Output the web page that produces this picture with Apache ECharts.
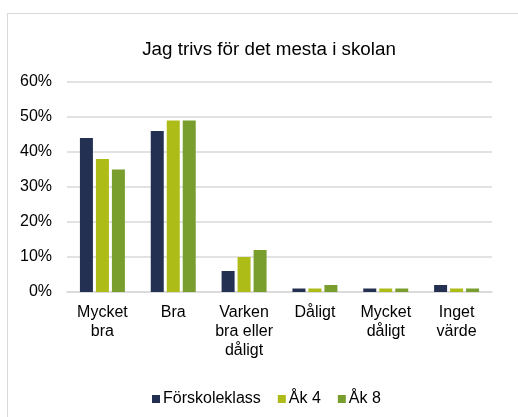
<!DOCTYPE html>
<html>
<head>
<meta charset="utf-8">
<script src="https://cdn.jsdelivr.net/npm/echarts@6/dist/echarts.min.js"></script>
<style>
  html, body { margin: 0; padding: 0; background: #fff; overflow: hidden; }
  #frame { position: absolute; left: 7px; top: 13px; width: 600px; height: 500px; border: 1.5px solid #d9d9d9; }
  #chart { position: absolute; left: 0; top: 0; width: 518px; height: 417px; }
</style>
</head>
<body>
<div id="frame"></div>
<div id="chart"></div>
<script>
// svarskategorier
const categories = ['Mycket\nbra', 'Bra', 'Varken\nbra eller\ndåligt', 'Dåligt', 'Mycket\ndåligt', 'Inget\nvärde'];
// andel i procent
const forskoleklass = [44, 46, 6, 1, 1, 2];
const ak4 = [38, 49, 10, 1, 1, 1];
const ak8 = [35, 49, 12, 2, 1, 1];
const seriesNames = ['Förskoleklass', 'Åk 4', 'Åk 8'];
const colors = ['#243052', '#adbc16', '#799e2e'];

const font = 'Liberation Sans, Arial, sans-serif';
const mychart = echarts.init(document.getElementById('chart'));

const option = {
  textStyle: { fontFamily: font },
  title: {
    text: 'Jag trivs för det mesta i skolan',
    left: 264,
    textAlign: 'center',
    top: 35,
    textStyle: { fontFamily: font, fontSize: 18.8, fontWeight: 'normal', color: '#000' }
  },
  legend: {
    data: seriesNames,
    top: 386,
    left: 147,
    icon: 'rect',
    itemWidth: 8,
    itemHeight: 8,
    itemGap: 17,
    textStyle: { fontFamily: font, fontSize: 16, color: '#000', padding: [0, 0, 0, -2] }
  },
  grid: { left: 67, right: 26, top: 82, height: 210 },
  xAxis: {
    type: 'category',
    data: categories,
    axisLine: { lineStyle: { color: '#d9d9d9', width: 1.5 } },
    axisTick: { show: false },
    axisLabel: { fontFamily: font, fontSize: 16, color: '#000', lineHeight: 19, margin: 11, interval: 0 }
  },
  yAxis: {
    type: 'value',
    min: 0,
    max: 60,
    interval: 10,
    axisLine: { show: false },
    axisTick: { show: false },
    splitLine: { lineStyle: { color: '#d9d9d9', width: 1.5 } },
    axisLabel: { fontFamily: font, fontSize: 16, color: '#000', margin: 15, formatter: '{value}%' }
  },
  series: [
    { name: seriesNames[0], type: 'bar', data: forskoleklass, barWidth: 13, barGap: '23%', itemStyle: { color: colors[0] } },
    { name: seriesNames[1], type: 'bar', data: ak4, barWidth: 13, barGap: '23%', itemStyle: { color: colors[1] } },
    { name: seriesNames[2], type: 'bar', data: ak8, barWidth: 13, barGap: '23%', itemStyle: { color: colors[2] } }
  ]
};
mychart.setOption(option);
</script>
</body>
</html>
